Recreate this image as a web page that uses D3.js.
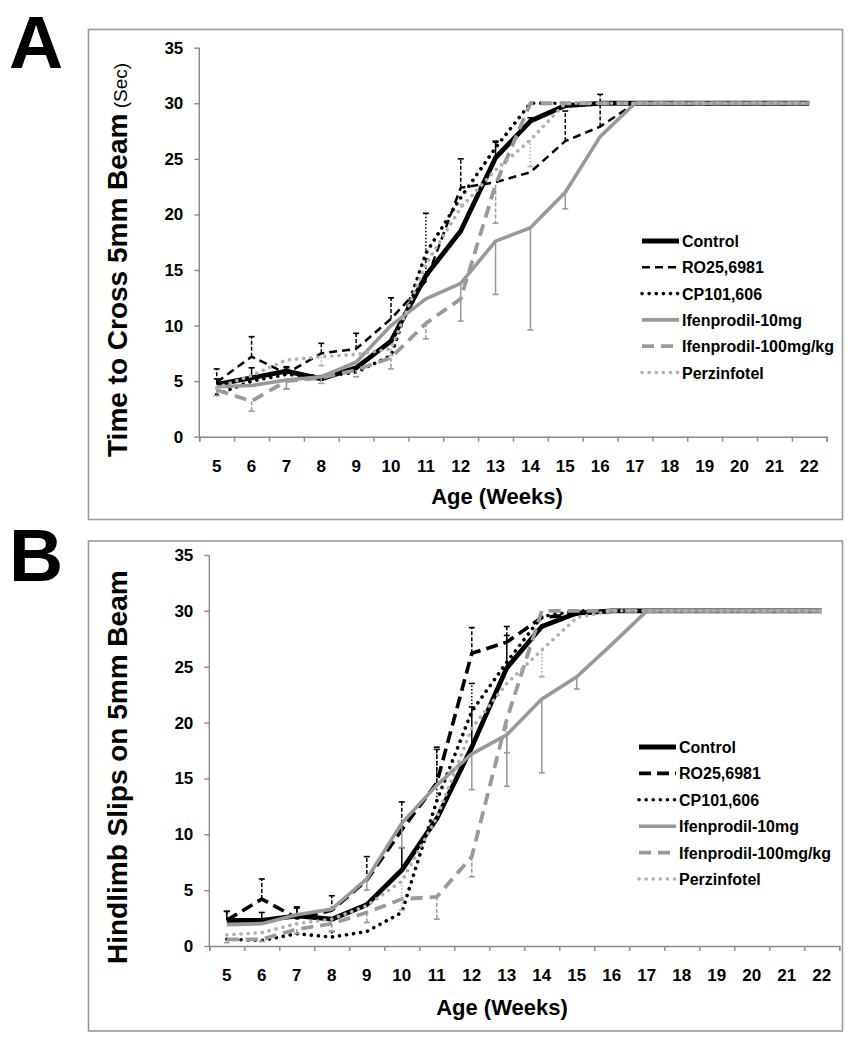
<!DOCTYPE html>
<html><head><meta charset="utf-8">
<script src="https://cdn.jsdelivr.net/npm/d3@7"></script>
<style>
body{margin:0;background:#fff;}
text{font-family:"Liberation Sans",Arial,sans-serif;}
</style></head>
<body><svg id="chart" width="854" height="1050"></svg>
<script>
const weeks = [5,6,7,8,9,10,11,12,13,14,15,16,17,18,19,20,21,22];
const yTicks = [0,5,10,15,20,25,30,35];
const seriesNames = ["Control","RO25,6981","CP101,606","Ifenprodil-10mg","Ifenprodil-100mg/kg","Perzinfotel"];

// Panel A: Time to cross 5mm beam (sec)
const ctrlA   = [4.7,5.3,5.9,5.2,6.2,8.6,14.5,18.5,25.1,28.4,29.8,30,30,30,30,30,30,30];
const roA     = [4.9,7.2,5.7,7.5,7.9,10.6,14.0,22.4,22.9,23.8,26.6,27.9,30,30,30,30,30,30];
const cpA     = [3.8,5.0,5.6,5.4,5.8,7.3,16.5,21.5,26.0,30,30,30,30,30,30,30,30,30];
const ifen10A = [4.5,4.6,5.1,5.4,6.7,10.0,12.4,13.8,17.6,18.8,22.0,27.0,30,30,30,30,30,30];
const ifen100A= [4.2,3.2,5.0,5.3,6.0,7.1,10.2,12.4,22.7,30,30,30,30,30,30,30,30,30];
const perzA   = [4.4,5.5,6.9,7.2,7.4,7.9,15.5,20.6,24.0,26.7,30,30,30,30,30,30,30,30];
// signed error bars (positive = up, negative = down)
const ctrlAErr   = [0.5,0.9,0.3,null,null,null,null,null,1.4,0.3,null,null,null,null,null,null,null,null];
const roAErr     = [1.2,1.8,0.6,0.9,1.4,1.9,2.0,2.6,null,null,2.7,2.9,null,null,null,null,null,null];
const cpAErr     = [null,null,null,null,null,null,3.6,null,0.6,null,null,null,null,null,null,null,null,null];
const ifen10AErr = [null,null,-0.8,null,null,null,null,-3.4,-4.8,-9.2,-1.5,null,null,null,null,null,null,null];
const ifen100AErr= [-0.5,-0.9,-0.7,-0.5,-0.6,-1.0,-1.4,null,-3.5,null,null,null,null,null,null,null,null,null];
const perzAErr   = [null,null,null,-0.8,null,-0.6,null,0.3,null,-2.4,null,null,null,null,null,null,null,null];

// Panel B: Hindlimb slips on 5mm beam
const ctrlB   = [2.3,2.3,2.7,2.4,3.7,6.8,11.4,17.8,24.9,28.6,29.8,30,30,30,30,30,30,30];
const roB     = [2.3,4.2,2.5,3.2,5.9,10.4,14.6,26.2,27.2,29.4,29.7,30,30,30,30,30,30,30];
const cpB     = [0.6,0.5,1.1,0.8,1.3,3.0,13.0,21.0,25.4,29.5,30,30,30,30,30,30,30,30];
const ifen10B = [1.9,2.0,2.8,3.3,6.0,11.0,14.4,17.2,18.9,22.1,24.1,27.0,30,30,30,30,30,30];
const ifen100B= [0.6,0.6,1.5,2.0,3.0,4.2,4.4,8.0,20.3,30,30,30,30,30,30,30,30,30];
const perzB   = [1.0,1.2,2.0,2.4,3.6,5.8,11.5,19.5,23.5,26.5,29.4,30,30,30,30,30,30,30];
const ctrlBErr   = [0.8,0.7,0.8,null,null,2.0,null,3.6,2.9,null,null,null,null,null,null,null,null,null];
const roBErr     = [0.8,1.8,0.9,1.3,2.1,2.5,3.2,2.3,1.4,null,null,null,null,null,null,null,null,null];
const cpBErr     = [null,null,null,0.5,null,null,4.6,2.5,null,null,null,null,null,null,null,null,null,null];
const ifen10BErr = [null,null,null,null,-1.0,-2.2,null,-3.2,-4.6,-6.6,-1.1,null,null,null,null,null,null,null];
const ifen100BErr= [-0.3,-0.2,-0.4,-0.7,-0.9,null,-2.0,-1.8,-3.0,null,null,null,null,null,null,null,null,null];
const perzBErr   = [null,null,null,null,null,-2.6,null,null,null,-2.4,null,null,null,null,null,null,null,null];

const styles = [
  {color:"#000", width:4.8, dash:null, cap:"butt"},
  {color:"#000", width:2.5, dash:"8,5", cap:"butt"},
  {color:"#000", width:3.6, dash:"0.1,7", cap:"round"},
  {color:"#999", width:3.6, dash:null, cap:"butt"},
  {color:"#9a9a9a", width:3.8, dash:"12,7", cap:"butt"},
  {color:"#b0b0b0", width:3.6, dash:"0.1,7", cap:"round"}
];
const errDash = [null,"4,2","1.5,2",null,"4,2","1.5,2"];

const svg = d3.select("#chart");

function panel(cfg){
  const g = svg.append("g");
  g.append("rect").attr("x",cfg.box[0]).attr("y",cfg.box[1]).attr("width",cfg.box[2]).attr("height",cfg.box[3])
    .attr("fill","none").attr("stroke","#9a9a9a").attr("stroke-width",1.6);
  g.append("text").attr("x",cfg.letterX).attr("y",cfg.letterY).attr("font-size",75).attr("font-weight","bold").text(cfg.letter);

  const x = d3.scaleBand().domain(weeks).range([cfg.x0,cfg.x1]).padding(0);
  const xl = d3.scaleLinear().domain([0,weeks.length]).range([cfg.x0,cfg.x1]);
  const y = d3.scaleLinear().domain([0,35]).range([cfg.yb,cfg.yt]);
  const cx = w => x(w)+x.bandwidth()/2;

  const ya = g.append("g").attr("transform",`translate(${cfg.x0},0)`)
    .call(d3.axisLeft(y).tickValues(yTicks).tickSize(5).tickPadding(11));
  const xt = g.append("g").attr("transform",`translate(0,${cfg.yb})`)
    .call(d3.axisBottom(xl).tickValues(d3.range(weeks.length+1)).tickFormat("").tickSize(5));
  const xa = g.append("g").attr("transform",`translate(0,${cfg.yb})`)
    .call(d3.axisBottom(x).tickSize(0).tickPadding(23));
  xa.select(".domain").remove();
  [ya,xt].forEach(a=>{a.selectAll("path,line").attr("stroke","#8a8a8a").attr("stroke-width",1.4);});
  ya.select(".domain").attr("d",`M0,${cfg.yb}V${cfg.yt}`);
  [ya,xa].forEach(a=>a.selectAll("text").attr("font-size",17).attr("font-weight","bold").attr("fill","#000")
     .attr("font-family","'Liberation Sans',Arial,sans-serif"));

  const yt = g.append("text").attr("transform",`translate(${cfg.ytX},${cfg.ytY}) rotate(-90)`)
    .attr("font-weight","bold").attr("font-size",28);
  yt.append("tspan").text(cfg.ytitle);
  if(cfg.ysub) yt.append("tspan").attr("font-size",19).attr("font-weight","normal").text(" "+cfg.ysub);
  g.append("text").attr("x",cfg.xtX).attr("y",cfg.xtY).attr("text-anchor","middle")
    .attr("font-size",22).attr("font-weight","bold").text("Age (Weeks)");

  const line = d3.line().x((d,i)=>cx(weeks[i])).y(d=>y(d));

  cfg.series.forEach((s,k)=>{
    const st = styles[k];
    const eb = g.append("g");
    s.err.forEach((e,i)=>{
      if(e===null) return;
      const xx = cx(weeks[i]), ya0 = y(s.vals[i]), ya1 = y(s.vals[i]+e);
      eb.append("line").attr("x1",xx).attr("x2",xx).attr("y1",ya0).attr("y2",ya1)
        .attr("stroke",st.color).attr("stroke-width",1.5).attr("stroke-dasharray",errDash[k]);
      eb.append("line").attr("x1",xx-3).attr("x2",xx+3).attr("y1",ya1).attr("y2",ya1)
        .attr("stroke",st.color).attr("stroke-width",1.6);
    });
    g.append("path").datum(s.vals).attr("d",line).attr("fill","none")
      .attr("stroke",st.color).attr("stroke-width",(cfg.widths&&cfg.widths[k])||st.width)
      .attr("stroke-dasharray",(cfg.dashes&&cfg.dashes[k])||st.dash).attr("stroke-linecap",st.cap)
      .attr("stroke-linejoin","round");
  });

  const lg = g.append("g");
  seriesNames.forEach((n,k)=>{
    const st = styles[k];
    const yy = cfg.legY + k*cfg.legStep;
    lg.append("line").attr("x1",cfg.legX).attr("x2",cfg.legX+37).attr("y1",yy).attr("y2",yy)
      .attr("stroke",st.color).attr("stroke-width",(cfg.widths&&cfg.widths[k])||st.width)
      .attr("stroke-dasharray",(cfg.dashes&&cfg.dashes[k])||st.dash).attr("stroke-linecap",st.cap);
    lg.append("text").attr("x",cfg.legX+40).attr("y",yy+6).attr("font-size",16).attr("font-weight","bold").text(n);
  });
}

panel({
  box:[88.5,29.5,754,490], letter:"A", letterX:9, letterY:68,
  x0:199.3, x1:826.7, yt:47.7, yb:436.7,
  ytitle:"Time to Cross 5mm Beam", ysub:"(Sec)", ytX:127, ytY:457,
  xtX:497, xtY:504,
  legX:642, legY:241, legStep:26.3,
  series:[
    {vals:ctrlA, err:ctrlAErr},{vals:roA, err:roAErr},{vals:cpA, err:cpAErr},
    {vals:ifen10A, err:ifen10AErr},{vals:ifen100A, err:ifen100AErr},{vals:perzA, err:perzAErr}
  ]
});
panel({
  box:[88.5,541,754,490], letter:"B", letterX:9, letterY:581,
  x0:209.3, x1:839.3, yt:555, yb:946,
  ytitle:"Hindlimb Slips on 5mm Beam", ysub:null, ytX:127, ytY:964,
  xtX:502, xtY:1015,
  legX:639, legY:747, legStep:26.4,
  widths:[4.8,3.6,3.6,3.6,3.8,3.6], dashes:[null,"12,6",null,null,null,null],
  series:[
    {vals:ctrlB, err:ctrlBErr},{vals:roB, err:roBErr},{vals:cpB, err:cpBErr},
    {vals:ifen10B, err:ifen10BErr},{vals:ifen100B, err:ifen100BErr},{vals:perzB, err:perzBErr}
  ]
});
</script></body></html>
